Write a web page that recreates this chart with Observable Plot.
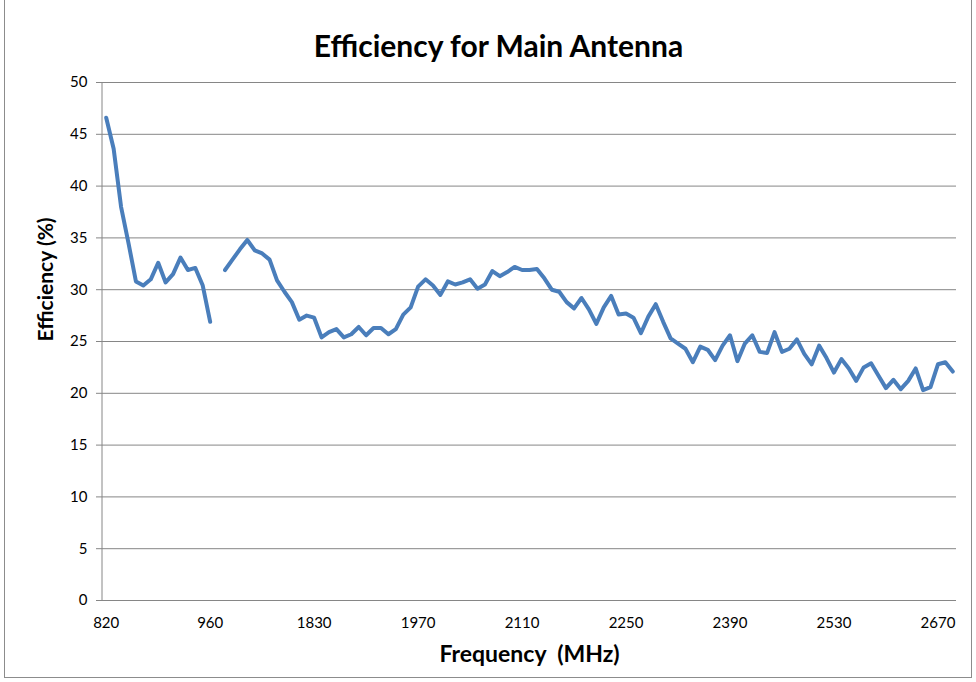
<!DOCTYPE html>
<html>
<head>
<meta charset="utf-8">
<script src="https://cdn.jsdelivr.net/npm/d3@7"></script>
<script src="https://cdn.jsdelivr.net/npm/@observablehq/plot@0.6"></script>
<style>
  html, body { margin: 0; padding: 0; background: #fff; }
  #wrap { position: relative; width: 976px; height: 682px; overflow: hidden; }
  #frame { position: absolute; left: 4px; top: -2px; width: 968px; height: 680px; border: 1px solid #8c8c8c; box-sizing: border-box; pointer-events: none; }
  svg { position: absolute; left: 0; top: 0; }
</style>
</head>
<body>
<div id="wrap"><div id="frame"></div></div>
<script>
const frequencies = [
  "820","830","840","850","860","870","880","890","900","910","920","930","940","950","960",
  "",
  "1710","1720","1730","1740","1750","1760","1770","1780","1790","1800",
  "1810","1820","1830","1840","1850","1860","1870","1880","1890","1900",
  "1910","1920","1930","1940","1950","1960","1970","1980","1990","2000",
  "2010","2020","2030","2040","2050","2060","2070","2080","2090","2100",
  "2110","2120","2130","2140","2150","2160","2170","2180","2190","2200",
  "2210","2220","2230","2240","2250","2260","2270","2280","2290","2300",
  "2310","2320","2330","2340","2350","2360","2370","2380","2390","2400",
  "2410","2420","2430","2440","2450","2460","2470","2480","2490","2500",
  "2510","2520","2530","2540","2550","2560","2570","2580","2590","2600",
  "2610","2620","2630","2640","2650","2660","2670","2680","2690"
];
const efficiency = [
  46.6, 43.6, 38.0, 34.5, 30.8, 30.4, 31.0, 32.6, 30.7, 31.5, 33.1, 31.9, 32.1, 30.4, 26.9,
  null,
  31.9, 32.9, 33.9, 34.8, 33.8, 33.5, 32.9, 30.9, 29.8, 28.8,
  27.1, 27.5, 27.3, 25.4, 25.9, 26.2, 25.4, 25.7, 26.4, 25.6,
  26.3, 26.3, 25.7, 26.2, 27.6, 28.3, 30.3, 31.0, 30.4, 29.5,
  30.8, 30.5, 30.7, 31.0, 30.1, 30.5, 31.8, 31.3, 31.7, 32.2,
  31.9, 31.9, 32.0, 31.1, 30.0, 29.8, 28.8, 28.2, 29.2, 28.1,
  26.7, 28.3, 29.4, 27.6, 27.7, 27.3, 25.8, 27.4, 28.6, 26.9,
  25.3, 24.8, 24.3, 23.0, 24.5, 24.2, 23.2, 24.6, 25.6, 23.1,
  24.8, 25.6, 24.0, 23.9, 25.9, 24.0, 24.3, 25.2, 23.8, 22.8,
  24.6, 23.4, 22.0, 23.3, 22.4, 21.2, 22.5, 22.9, 21.7, 20.5,
  21.3, 20.4, 21.2, 22.4, 20.3, 20.6, 22.8, 23.0, 22.1
];
const xTicks = ["820","960","1830","1970","2110","2250","2390","2530","2670"];
const yTicks = [0, 5, 10, 15, 20, 25, 30, 35, 40, 45, 50];

const data = frequencies.map((f, i) => ({freq: f, eff: efficiency[i]}));
const font = "Lato, 'Open Sans', sans-serif";

const chart = Plot.plot({
  width: 976,
  height: 682,
  marginLeft: 102,
  marginRight: 20,
  marginTop: 82,
  marginBottom: 82,
  style: {fontFamily: font, fontSize: "15px", color: "#000", background: "transparent"},
  x: {type: "point", domain: frequencies, padding: 0.5, align: 0.5},
  y: {domain: [0, 50]},
  marks: [
    Plot.ruleY(yTicks, {y: d => d, stroke: "#868686", strokeWidth: 1}),
    Plot.axisY({ticks: yTicks, tickSize: 6, tickPadding: 9, stroke: "#868686", fill: "#000", fontSize: 15, label: null}),
    Plot.axisX({ticks: xTicks, tickSize: 0, tickPadding: 17, fill: "#000", fontSize: 15, label: null}),
    Plot.line(data, {x: "freq", y: "eff", stroke: "#4a7ebb", strokeWidth: 4, strokeLinejoin: "round", strokeLinecap: "round"}),
    Plot.text(["Efficiency for Main Antenna"], {frameAnchor: "top", dx: -31, dy: -47, fontSize: 30, fontWeight: "bold", fill: "#000"}),
    Plot.text(["Frequency  (MHz)"], {frameAnchor: "bottom", dy: 61, fontSize: 23, fontWeight: "bold", fill: "#000"}),
    Plot.text(["Efficiency (%)"], {frameAnchor: "left", dx: -56, rotate: -90, fontSize: 21, fontWeight: "bold", fill: "#000"})
  ]
});

// y axis line at the left edge of the plot area
d3.select(chart).append("line")
  .attr("x1", 102).attr("x2", 102).attr("y1", 82).attr("y2", 600)
  .attr("stroke", "#868686").attr("stroke-width", 1);

document.getElementById("wrap").prepend(chart);
</script>
</body>
</html>
